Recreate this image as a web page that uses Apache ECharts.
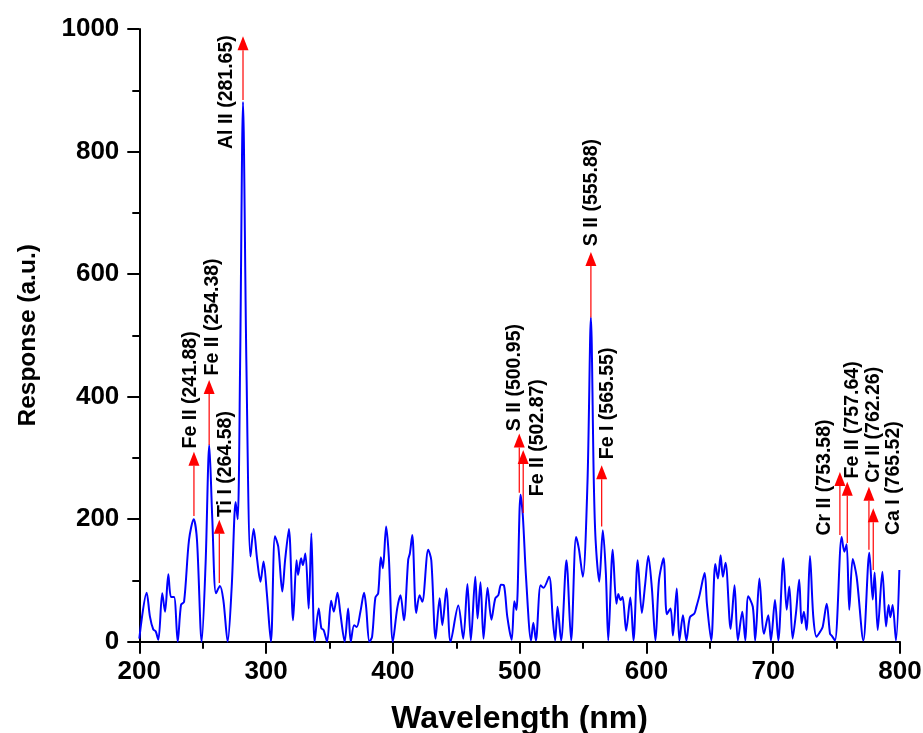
<!DOCTYPE html>
<html>
<head>
<meta charset="utf-8">
<script src="https://cdn.jsdelivr.net/npm/echarts@6/dist/echarts.min.js"></script>
<style>html,body{margin:0;padding:0;background:#fff}#c{width:923px;height:733px}</style>
</head>
<body>
<div id="c"></div>
<script>
// wavelength (nm)
var wavelengths = [200,205.8,208.4,211,212.9,215,218.1,220.3,222.9,225,227.4,230.3,232.9,235.3,239.2,242.9,245.5,249.2,252.3,255.2,257.6,260.5,263.6,266.3,269.7,272.9,276,277.6,279.5,281.8,284.5,287.7,290.2,293,295.6,298,300.6,303.8,307,309.6,312.8,315,318,321.3,324,325.2,327.6,329,331,333.6,335.7,338.3,341.5,343.6,345.4,348.1,351.3,353.4,356.3,358.6,362,364.7,366.8,369.4,371.5,374.4,377.3,378.9,381.5,383.6,386.2,388.4,390.5,392.1,394.7,396.8,400,403.4,406,408.7,412.1,413.4,415.3,418.4,421.1,423.2,427.9,430.3,433.7,436.9,439,442.3,445.5,451.6,455.5,458.8,461.5,465,466.8,469.1,471.5,474.7,477.7,480.8,483.2,485.3,487.6,490.3,493.7,495.8,497.5,500.7,502.5,505.1,509,510.8,512.8,516.5,518.8,523.2,526.2,528,529.9,532.7,536.9,540.6,544.5,546.7,549.8,553.5,556.2,558.5,559.9,562.8,565.6,568,569.9,573.4,576.3,577.8,579.6,581.2,584,587.3,589.8,593.1,596.4,598.9,601.5,604.3,607.1,609.9,613.5,616.1,619,620.9,623.9,626,628.8,631.5,634.3,637.8,639.3,641.9,645.9,647.7,651.1,654.3,656.4,658.5,660.3,662.4,666.4,669.5,672.1,675.6,678,680.3,683.9,685.8,689.1,692.7,696.1,698.2,701.4,704,708,710.6,712.7,715.3,718,720.5,722.4,724.2,726.3,729,731.6,734.2,736.9,739,742.2,744.8,746.1,748.7,754,756.1,757.9,760,762.7,765.8,771.1,775.8,778.5,780,782.4,786.1,789,791,792.4,794.2,796.8,799.5];
// response (a.u.)
var response = [5,80,41,20,17,3,79,49,110,73,73,0,60,65,166,200,166,0,128,321,199,79,91,68,0,90,228,200,450,881,450,139,184,133,98,131,79,0,172,155,82,133,184,35,133,109,136,125,144,54,177,0,54,22,19,0,67,49,80,46,0,54,0,27,24,49,80,57,0,8,72,79,138,120,188,139,0,54,76,35,134,144,174,47,76,65,150,133,5,71,27,87,0,59,5,94,2,106,38,97,5,88,36,71,76,93,92,40,3,66,52,240,206,103,2,31,2,92,88,106,35,2,57,2,133,2,171,152,106,260,529,260,166,98,182,112,2,150,62,78,68,73,18,72,2,133,47,92,140,87,2,100,136,45,54,10,87,2,43,2,40,46,56,76,112,62,2,127,103,141,106,129,21,92,2,49,2,74,57,2,103,13,43,2,68,2,136,52,90,5,48,101,30,49,19,140,41,8,16,24,62,13,10,2,171,147,159,52,135,106,2,145,69,113,19,114,25,60,40,60,2,117];

// arrows: x position, start value, tip value
var arrowX    = [243.1,255.1,263.1,281.8,499.7,502.8,556.2,564.7,752.6,758.4,775.5,778.9];
var arrowFrom = [205,321,96,884,243,210,529,188,174,161,150,117];
var arrowTo   = [310,427,199,988,340,313,636,288,277,261,253,218];

// peak labels: text, centre x, centre y
var labelText = ['Fe II (241.88)','Fe II (254.38)','Ti I (264.58)','Al II (281.65)','S II (500.95)','Fe II (502.87)','S II (555.88)','Fe I (565.55)','Cr II (753.58)','Fe II (757.64)','Cr II (762.26)','Ca I (765.52)'];
var labelX = [240.8,258.1,267.7,268.9,496.3,513.9,557,569.1,740.8,762.6,778.9,794.6];
var labelY = [411,530,290,897,431,333,733,389,268,362,354,267];

var xTicks = {min:200,max:800,interval:100};
var yTicks = {min:0,max:1000,interval:200};

var lineData = wavelengths.map(function(w,i){return [w,response[i]];});
var arrowData = arrowX.map(function(x,i){return [x,arrowFrom[i],arrowTo[i]];});
var labelData = labelX.map(function(x,i){return [x,labelY[i],labelText[i]];});

var FONT = '"Liberation Sans", Arial, sans-serif';
var chart = echarts.init(document.getElementById('c'));
chart.setOption({
  animation:false,
  backgroundColor:'#fff',
  grid:{left:139.3,right:23,top:29,bottom:91.3,containLabel:false,outerBoundsMode:'none'},
  xAxis:{
    type:'value',min:xTicks.min,max:xTicks.max,interval:xTicks.interval,
    name:'Wavelength (nm)',nameLocation:'middle',nameGap:61,
    nameTextStyle:{fontFamily:FONT,fontWeight:'bold',fontSize:32,color:'#000'},
    axisLine:{show:true,onZero:false,lineStyle:{color:'#000',width:2}},
    axisTick:{show:true,inside:false,length:12,lineStyle:{color:'#000',width:2}},
    minorTick:{show:true,splitNumber:2,length:7,lineStyle:{color:'#000',width:2}},
    axisLabel:{fontFamily:FONT,fontWeight:'bold',fontSize:26,color:'#000',margin:17,
      formatter:function(v){return String(v);}},
    splitLine:{show:false}
  },
  yAxis:{
    type:'value',min:yTicks.min,max:yTicks.max,interval:yTicks.interval,
    name:'Response (a.u.)',nameLocation:'middle',nameGap:99,
    nameTextStyle:{fontFamily:FONT,fontWeight:'bold',fontSize:24.5,color:'#000'},
    axisLine:{show:true,lineStyle:{color:'#000',width:2}},
    axisTick:{show:true,inside:false,length:12,lineStyle:{color:'#000',width:2}},
    minorTick:{show:true,splitNumber:2,length:7,lineStyle:{color:'#000',width:2}},
    axisLabel:{fontFamily:FONT,fontWeight:'bold',fontSize:26,color:'#000',margin:20,
      formatter:function(v){return String(v);}},
    splitLine:{show:false}
  },
  series:[
    {
      type:'line',data:lineData,showSymbol:false,smooth:0.3,clip:true,
      lineStyle:{color:'#0000ff',width:2},z:2
    },
    {
      type:'custom',data:arrowData,z:3,
      renderItem:function(params,api){
        var p0 = api.coord([api.value(0),api.value(1)]);
        var p1 = api.coord([api.value(0),api.value(2)]);
        var head = 14, hw = 5.5;
        return {type:'group',children:[
          {type:'line',shape:{x1:p0[0],y1:p0[1],x2:p1[0],y2:p1[1]+head},style:{stroke:'#ff0000',lineWidth:1.2}},
          {type:'polygon',shape:{points:[[p1[0],p1[1]],[p1[0]-hw,p1[1]+head],[p1[0]+hw,p1[1]+head]]},style:{fill:'#ff0000'}}
        ]};
      }
    },
    {
      type:'custom',data:labelData,z:4,
      renderItem:function(params,api){
        var p = api.coord([api.value(0),api.value(1)]);
        return {type:'text',x:p[0],y:p[1],rotation:Math.PI/2,
          style:{text:labelText[params.dataIndex],font:'bold 19.5px '+FONT,fill:'#000',align:'center',verticalAlign:'middle'}};
      }
    }
  ]
});
</script>
</body>
</html>
